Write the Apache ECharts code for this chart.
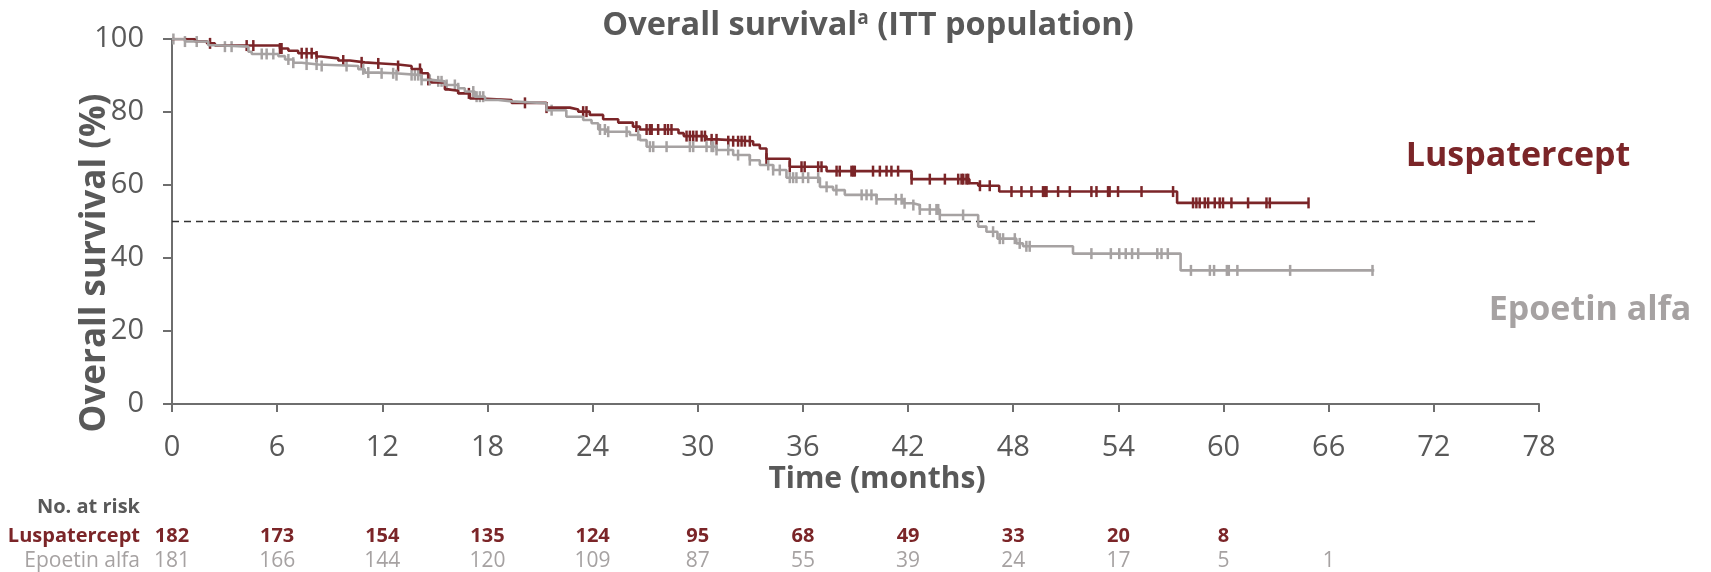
<!DOCTYPE html>
<html>
<head>
<meta charset="utf-8">
<script src="https://cdn.jsdelivr.net/npm/echarts@6/dist/echarts.min.js"></script>
<style>
  html, body { margin: 0; padding: 0; background: #ffffff; }
  #chart { width: 1711px; height: 572px; }
</style>
</head>
<body>
<div id="chart"></div>
<script>
// Kaplan-Meier step points: [month, survival %] (survival becomes the value at that month)
const luspSteps = [
  [0, 100], [1.3, 99.4], [2.0, 98.8], [2.45, 98.2], [6.16, 97.4], [6.64, 96.8], [7.2, 96.1],
  [8.25, 95.2], [8.5, 94.7], [9.49, 94.1], [10.15, 93.6], [11.0, 93.3], [11.96, 93.0],
  [12.9, 92.6], [13.67, 91.8], [14.24, 90.6], [14.62, 88.8], [14.8, 88.1], [15.57, 86.2],
  [15.76, 85.8], [16.33, 85.1], [17.0, 83.7], [17.66, 83.3], [19.38, 82.5], [21.37, 81.2],
  [22.7, 80.7], [23.18, 80.1], [23.84, 79.2], [24.6, 78.0], [25.46, 77.1], [26.3, 76.0],
  [26.7, 75.2], [28.9, 74.2], [29.2, 73.4], [30.5, 72.5], [31.1, 72.0], [33.16, 71.0],
  [33.54, 70.0], [33.92, 67.2], [35.25, 65.0], [37.35, 63.8], [42.2, 61.6], [45.5, 60.5],
  [46.0, 59.8], [47.2, 58.2], [57.35, 55.1], [64.85, 55.1]
];
const epoSteps = [
  [0, 100], [0.74, 99.3], [2.07, 98.3], [2.6, 97.9], [4.36, 96.5], [4.55, 95.9], [6.07, 95.3],
  [6.45, 94.4], [6.92, 93.5], [7.4, 93.0], [8.35, 92.6], [10.63, 91.7], [11.0, 90.8],
  [11.77, 90.6], [12.72, 90.1], [14.24, 88.8], [14.8, 88.4], [15.57, 87.4], [16.33, 86.5],
  [16.71, 85.6], [17.28, 84.2], [17.86, 83.3], [18.61, 82.9], [19.4, 82.4], [21.37, 80.5],
  [22.5, 78.7], [23.46, 77.8], [23.94, 76.9], [24.32, 75.2], [24.8, 74.6], [26.13, 73.7],
  [26.7, 72.3], [27.08, 70.5], [31.07, 69.6], [32.02, 68.2], [32.97, 66.8], [33.54, 65.5],
  [34.3, 64.1], [35.06, 62.0], [36.97, 59.5], [37.72, 58.6], [38.39, 57.3], [40.2, 56.1],
  [41.72, 55.0], [42.29, 54.5], [42.67, 53.3], [43.81, 51.8], [46.0, 48.6], [46.47, 47.2],
  [47.1, 45.3], [48.18, 44.0], [48.56, 43.2], [51.41, 41.2], [57.55, 36.6], [68.6, 36.6]
];

// Censoring times (months)
const luspCensored = [
  2.17, 4.26, 4.64, 6.16, 6.25, 7.4, 7.68, 7.97, 8.25, 9.77, 10.82, 11.77, 12.9, 14.15, 14.62,
  16.94, 20.14, 21.37, 23.46, 23.65, 26.5, 27.08, 27.27, 27.37, 27.74, 28.12, 28.3, 28.5,
  29.36, 29.55, 29.74, 29.93, 30.22, 30.41, 30.79, 31.07, 31.74, 32.02, 32.3, 32.5, 32.69,
  32.97, 33.92, 35.25, 35.92, 36.1, 36.87, 37.06, 37.92, 38.1, 38.77, 38.87, 38.96, 40.0,
  40.39, 40.77, 41.05, 41.43, 42.2, 43.24, 44.1, 44.86, 45.05, 45.15, 45.33, 45.43, 46.1,
  46.66, 47.9, 48.47, 49.04, 49.7, 49.8, 49.9, 50.56, 51.23, 52.46, 52.75, 53.41, 53.5,
  53.98, 55.32, 57.12, 58.26, 58.45, 58.64, 58.93, 59.12, 59.5, 59.78, 59.97, 60.45, 61.4,
  62.45, 62.64, 64.85
];
const epoCensored = [
  0.08, 0.74, 1.41, 3.02, 3.4, 5.12, 5.4, 5.78, 6.64, 6.92, 7.68, 8.25, 8.54, 9.96, 10.91,
  11.2, 11.96, 12.62, 12.81, 13.67, 13.86, 14.05, 14.24, 14.71, 15.19, 15.38, 15.67, 16.14,
  16.33, 17.19, 17.38, 17.57, 17.76, 21.66, 24.42, 24.7, 24.89, 25.94, 26.6, 27.27, 27.46,
  28.22, 29.55, 29.74, 30.5, 30.79, 30.88, 31.07, 31.74, 32.3, 32.97, 34.02, 34.3, 34.68,
  35.25, 35.44, 35.63, 36.0, 36.3, 36.87, 37.35, 37.91, 39.35, 39.63, 39.91, 40.2, 41.3,
  41.63, 41.8, 42.3, 42.67, 43.24, 43.62, 43.72, 43.81, 45.14, 46.85, 47.23, 47.42, 48.09,
  48.37, 48.75, 48.94, 52.46, 53.57, 54.05, 54.42, 54.78, 55.13, 56.22, 56.46, 56.82, 58.14,
  59.22, 59.46, 60.19, 60.3, 60.79, 63.8, 68.5
];

// Number at risk table
const riskMonths = [0, 6, 12, 18, 24, 30, 36, 42, 48, 54, 60, 66];
const luspAtRisk = [182, 173, 154, 135, 124, 95, 68, 49, 33, 20, 8];
const epoAtRisk = [181, 166, 144, 120, 109, 87, 55, 39, 24, 17, 5, 1];

const medianLine = 50;

const FONT = "'Open Sans', 'Liberation Sans', sans-serif";
const TXT = '#595959';
const AXIS = '#6e6e6e';
const RED = '#7B2528';
const GREY = '#A6A2A2';

function survAt(steps, t) {
  let s = steps[0][1];
  for (const [m, v] of steps) {
    if (m <= t + 1e-9) s = v; else break;
  }
  return s;
}

function censorSeries(name, times, steps, color) {
  return {
    type: 'custom',
    name: name,
    silent: true,
    animation: false,
    data: times.map(t => [t, survAt(steps, t)]),
    renderItem: function (params, api) {
      const p = api.coord([api.value(0), api.value(1)]);
      return {
        type: 'line',
        shape: { x1: p[0], y1: p[1] - 5.5, x2: p[0], y2: p[1] + 5.5 },
        style: { stroke: color, lineWidth: 2.5 }
      };
    }
  };
}

function kmSeries(name, steps, color) {
  return {
    type: 'line',
    name: name,
    step: 'end',
    data: steps,
    symbol: 'none',
    silent: true,
    animation: false,
    lineStyle: { color: color, width: 2.6 }
  };
}

const chart = echarts.init(document.getElementById('chart'));

chart.setOption({
  backgroundColor: '#ffffff',
  animation: false,
  grid: { left: 172, right: 172, top: 39, bottom: 168 },
  xAxis: {
    type: 'value',
    min: 0, max: 78, interval: 6,
    axisLine: { show: true, lineStyle: { color: AXIS, width: 2 } },
    axisTick: { show: true, length: 8, lineStyle: { color: AXIS, width: 2 } },
    axisLabel: { color: TXT, fontFamily: FONT, fontSize: 29, margin: 29 },
    splitLine: { show: false }
  },
  yAxis: {
    type: 'value',
    min: 0, max: 100, interval: 20,
    axisLine: { show: true, lineStyle: { color: AXIS, width: 2 } },
    axisTick: { show: true, length: 9, lineStyle: { color: AXIS, width: 2 } },
    axisLabel: { color: TXT, fontFamily: FONT, fontSize: 29, margin: 28 },
    splitLine: { show: false }
  },
  series: [
    {
      type: 'line',
      name: 'median',
      data: [[0, medianLine], [78, medianLine]],
      symbol: 'none',
      silent: true,
      animation: false,
      lineStyle: { color: '#333333', width: 1.5, type: [7, 5] }
    },
    kmSeries('Luspatercept', luspSteps, RED),
    censorSeries('Luspatercept censored', luspCensored, luspSteps, RED),
    kmSeries('Epoetin alfa', epoSteps, GREY),
    censorSeries('Epoetin alfa censored', epoCensored, epoSteps, GREY)
  ]
});

// Text: titles, curve labels and the number-at-risk table
const xPix = m => chart.convertToPixel({ xAxisIndex: 0 }, m);
const texts = [];

function label(x, y, text, opts) {
  texts.push({
    type: 'text',
    x: x, y: y,
    rotation: opts.rotation || 0,
    silent: true,
    style: Object.assign({
      text: text,
      fontFamily: FONT,
      fill: TXT,
      align: 'center',
      verticalAlign: 'middle'
    }, opts.style || {})
  });
}

label(868, 26, '{m|Overall survival}{s|a}{m| (ITT population)}', {
  style: {
    rich: {
      m: { fontFamily: FONT, fontSize: 32.5, fontWeight: 'bold', fill: TXT },
      s: { fontFamily: FONT, fontSize: 19, fontWeight: 'bold', fill: TXT, verticalAlign: 'top', padding: [0, 0, 14, 0] }
    }
  }
});
label(95, 263, 'Overall survival (%)', { rotation: Math.PI / 2, style: { fontSize: 35, fontWeight: 'bold' } });
label(877, 479, 'Time (months)', { style: { fontSize: 30, fontWeight: 'bold' } });

label(1518, 156, 'Luspatercept', { style: { fontSize: 34, fontWeight: 'bold', fill: RED } });
label(1590, 310, 'Epoetin alfa', { style: { fontSize: 34, fontWeight: 'bold', fill: GREY } });

label(140, 507, 'No. at risk', { style: { fontSize: 20, fontWeight: 'bold', align: 'right' } });
label(140, 536, 'Luspatercept', { style: { fontSize: 20, fontWeight: 'bold', align: 'right', fill: RED } });
label(140, 561, 'Epoetin alfa', { style: { fontSize: 21, align: 'right', fill: GREY } });

luspAtRisk.forEach((n, i) => {
  label(xPix(riskMonths[i]), 536, String(n), { style: { fontSize: 20, fontWeight: 'bold', fill: RED } });
});
epoAtRisk.forEach((n, i) => {
  label(xPix(riskMonths[i]), 561, String(n), { style: { fontSize: 21, fill: GREY } });
});

chart.setOption({ graphic: { elements: texts } });
</script>
</body>
</html>
